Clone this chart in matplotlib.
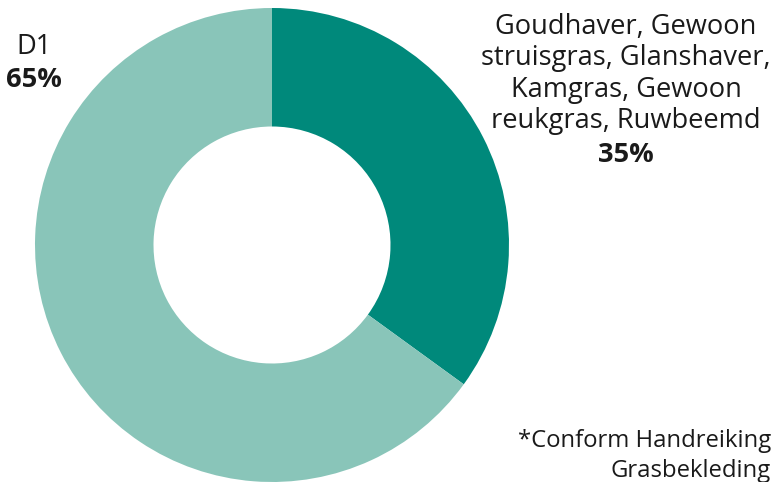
import matplotlib
matplotlib.use("Agg")
import matplotlib.pyplot as plt

plt.rcParams['font.family'] = ['Open Sans', 'DejaVu Sans']

# Data
labels = ["Goudhaver, Gewoon\nstruisgras, Glanshaver,\nKamgras, Gewoon\nreukgras, Ruwbeemd", "D1"]
shares = [35, 65]
colors = ["#00897b", "#89c5b9"]
footnote = "*Conform Handreiking\nGrasbekleding"

fig = plt.figure(figsize=(7.73, 4.82), dpi=100)
ax = fig.add_axes([35 / 773, 0.0, 474 / 773, 474 / 482])

ax.pie(shares, colors=colors, startangle=90, counterclock=False,
       radius=1.0, wedgeprops=dict(width=0.5, edgecolor="none"))
ax.set_xlim(-1, 1)
ax.set_ylim(-1, 1)
ax.set_aspect("equal")
ax.axis("off")

fs = 19.6
# Slice labels
fig.text(626 / 773, 1 - 74 / 482, labels[0], ha="center", va="center",
         fontsize=fs, linespacing=1.15, color="#1a1a1a")
fig.text(626 / 773, 1 - 155 / 482, f"{shares[0]}%", ha="center", va="center",
         fontsize=fs, fontweight="bold", color="#1a1a1a")

fig.text(34 / 773, 1 - 47 / 482, labels[1], ha="center", va="center",
         fontsize=fs, color="#1a1a1a")
fig.text(34 / 773, 1 - 80 / 482, f"{shares[1]}%", ha="center", va="center",
         fontsize=fs, fontweight="bold", color="#1a1a1a")

# Footnote
fig.text(771 / 773, 1 - 456 / 482, footnote, ha="right", va="center",
         multialignment="right", fontsize=17.2, linespacing=1.3, color="#1a1a1a")

fig.savefig("out.png", dpi=100)
